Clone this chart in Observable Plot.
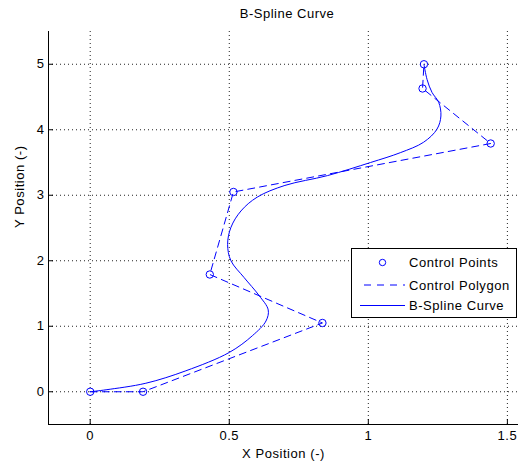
<!DOCTYPE html>
<html><head><meta charset="utf-8">
<script src="https://cdn.jsdelivr.net/npm/d3@7"></script>
<script src="https://cdn.jsdelivr.net/npm/@observablehq/plot@0.6"></script>
<style>
body{margin:0;background:#fff;font-family:"Liberation Sans",Arial,Helvetica,sans-serif;}
#wrap{position:relative;width:519px;height:465px;overflow:hidden;}
#title{position:absolute;left:48px;width:478px;top:5px;height:18px;line-height:18px;text-align:center;font-size:13px;letter-spacing:0.5px;color:#000;}
#legend{position:absolute;left:351px;top:248px;width:164px;height:68px;border:1px solid #000;background:#fff;}
#chart{position:absolute;left:0;top:0;}
#chart svg text, #legend svg text{letter-spacing:0.55px;}
</style></head>
<body>
<div id="wrap">
<div id="chart"></div>
<div id="title">B-Spline Curve</div>
<div id="legend"></div>
</div>
<script>
// control points
const cpX = [0, 0.19, 0.835, 0.43, 0.515, 1.44, 1.195, 1.2];
const cpY = [0, 0, 1.05, 1.79, 3.05, 3.79, 4.63, 5.0];
// B-spline curve
const curveX = [0, 0.057, 0.2, 0.344, 0.5, 0.583, 0.632, 0.64, 0.607, 0.553, 0.506, 0.494, 0.506, 0.542, 0.60, 0.70, 0.853, 1.008, 1.115, 1.199, 1.247, 1.261, 1.253, 1.229, 1.211, 1.2];
const curveY = [0, 0.03, 0.13, 0.32, 0.6, 0.855, 1.08, 1.25, 1.47, 1.745, 2.0, 2.25, 2.51, 2.76, 2.97, 3.15, 3.30, 3.50, 3.65, 3.81, 4.01, 4.21, 4.42, 4.57, 4.77, 5.0];
const xTicks = [0, 0.5, 1, 1.5];
const xTickLabels = ["0", "0.5", "1", "1.5"];
const yTicks = [0, 1, 2, 3, 4, 5];
const yTickLabels = ["0", "1", "2", "3", "4", "5"];
const xDomain = [-0.15, 1.54];
const yDomain = [-0.5, 5.5];
const legendLabels = ["Control Points", "Control Polygon", "B-Spline Curve"];

const points = cpX.map((x, i) => ({x, y: cpY[i]}));
const curve = curveX.map((x, i) => ({x, y: curveY[i]}));

const W = 519, H = 465, mt = 31, mb = 41, ml = 48, mr = 1;
const innerH = H - mt - mb, innerW = W - ml - mr;
const blue = "#0000ff";

const chart = Plot.plot({
  width: W, height: H,
  marginTop: mt, marginBottom: mb, marginLeft: ml, marginRight: mr,
  style: {fontFamily: "'Liberation Sans', Arial, Helvetica, sans-serif", fontSize: "13px", color: "#000", background: "#fff"},
  x: {domain: xDomain},
  y: {domain: yDomain},
  marks: [
    Plot.gridX(xTicks, {stroke: "#222", strokeOpacity: 1, strokeDasharray: "1,3"}),
    Plot.gridY(yTicks, {stroke: "#222", strokeOpacity: 1, strokeDasharray: "1,3"}),
    Plot.ruleX([xDomain[0]], {stroke: "#000"}),
    Plot.ruleY([yDomain[0]], {stroke: "#000"}),
    Plot.tickX(xTicks, {x: d => d, insetTop: innerH - 5, stroke: "#000"}),
    Plot.tickY(yTicks, {y: d => d, insetRight: innerW - 5, stroke: "#000"}),
    Plot.axisX(xTicks, {tickSize: 0, tickPadding: 6, label: null, tickFormat: d => xTickLabels[xTicks.indexOf(d)]}),
    Plot.axisY(yTicks, {tickSize: 0, tickPadding: 4, label: null, tickFormat: d => yTickLabels[yTicks.indexOf(d)]}),
    Plot.text(["X Position (-)"], {text: d => d, frameAnchor: "bottom", dy: 33}),
    Plot.text(["Y Position (-)"], {text: d => d, frameAnchor: "left", dx: -29, rotate: -90}),
    Plot.line(points, {x: "x", y: "y", stroke: blue, strokeWidth: 1, strokeDasharray: "7,5"}),
    Plot.line(curve, {x: "x", y: "y", curve: "catmull-rom", stroke: blue, strokeWidth: 1}),
    Plot.dot(points, {x: "x", y: "y", r: 3.7, stroke: blue, fill: "none", strokeWidth: 1})
  ]
});
document.getElementById("chart").appendChild(chart);

// legend
const lg = d3.select("#legend").append("svg").attr("width", 164).attr("height", 68)
  .style("font-family", "'Liberation Sans', Arial, Helvetica, sans-serif").style("font-size", "13px");
const rowsY = [13.5, 36, 56.5];
lg.append("circle").attr("cx", 30.5).attr("cy", rowsY[0]).attr("r", 3.2).attr("fill", "none").attr("stroke", blue);
lg.append("line").attr("x1", 12).attr("x2", 53).attr("y1", rowsY[1]).attr("y2", rowsY[1]).attr("stroke", blue).attr("stroke-dasharray", "7,6");
lg.append("line").attr("x1", 8).attr("x2", 53).attr("y1", rowsY[2]).attr("y2", rowsY[2]).attr("stroke", blue);
legendLabels.forEach((t, i) => {
  lg.append("text").attr("x", 57).attr("y", rowsY[i]).attr("dy", "0.35em").attr("fill", "#000").text(t);
});
</script>
</body></html>
